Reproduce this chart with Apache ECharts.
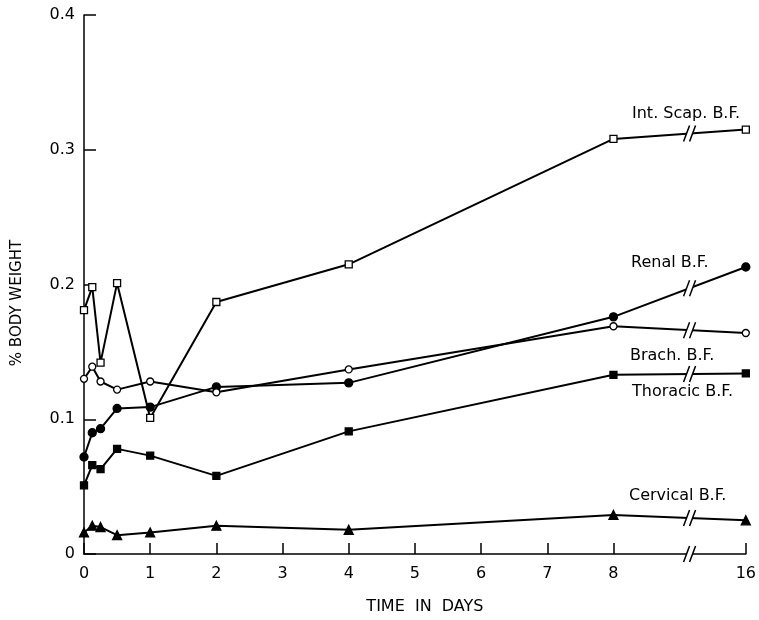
<!DOCTYPE html>
<html>
<head>
<meta charset="utf-8">
<script src="https://cdn.jsdelivr.net/npm/echarts@6/dist/echarts.min.js"></script>
<style>html,body{margin:0;padding:0;background:#fff}#c{width:759px;height:620px}</style>
</head>
<body>
<div id="c"></div>
<script>
// Time points in days
var days = [0, 0.125, 0.25, 0.5, 1, 2, 4, 8, 16];
// % body weight
var intScap  = [0.181, 0.198, 0.142, 0.201, 0.101, 0.187, 0.215, 0.308, 0.315];
var renal    = [0.072, 0.090, 0.093, 0.108, 0.109, 0.124, 0.127, 0.176, 0.213];
var brach    = [0.130, 0.139, 0.128, 0.122, 0.128, 0.120, 0.137, 0.169, 0.164];
var thoracic = [0.051, 0.066, 0.063, 0.078, 0.073, 0.058, 0.091, 0.133, 0.134];
var cervical = [0.016, 0.021, 0.020, 0.014, 0.016, 0.021, 0.018, 0.029, 0.025];
var xTickDays = [0, 1, 2, 3, 4, 5, 6, 7, 8, 16];
var seriesNames = ['Int. Scap. B.F.', 'Renal B.F.', 'Brach. B.F.', 'Thoracic B.F.', 'Cervical B.F.'];
var xTitle = 'TIME  IN  DAYS';
var yTitle = '% BODY WEIGHT';

// broken axis: days 0..8 linear, 8..16 compressed into 2 units
function pos(d) { return d <= 8 ? d : 8 + (d - 8) / 4; }
function dayOf(p) { return p <= 8 ? p : 8 + (p - 8) * 4; }
var breakPos = 9.15;

function pts(vals) { return days.map(function (d, i) { return [pos(d), vals[i]]; }); }
function valAtBreak(vals) {
  var a = vals[7], b = vals[8], t = (breakPos - pos(8)) / (pos(16) - pos(8));
  return a + (b - a) * t;
}

var chart = echarts.init(document.getElementById('c'));
var F = 'DejaVu Sans, Liberation Sans, sans-serif';
var lineStyle = { color: '#000', width: 2 };

function mkSeries(name, vals, symbol, filled, size) {
  return {
    name: name, type: 'line', data: pts(vals),
    symbol: symbol, symbolSize: size, showAllSymbol: true,
    lineStyle: lineStyle,
    itemStyle: { color: filled ? '#000' : '#fff', borderColor: '#000', borderWidth: 1.3 },
    z: 3, animation: false
  };
}

var allVals = [intScap, renal, brach, thoracic, cervical];
var breakData = allVals.map(function (v) { return [breakPos, valAtBreak(v)]; });
breakData.push([breakPos, 0]);

var breakSeries = {
  type: 'custom', data: breakData, z: 5, animation: false,
  renderItem: function (params, api) {
    var p = api.coord([api.value(0), api.value(1)]);
    var g = 3, h = 8, s = 3;
    return {
      type: 'group',
      children: [
        { type: 'polygon', shape: { points: [[p[0] - g - s, p[1] + h], [p[0] + g - s, p[1] + h], [p[0] + g + s, p[1] - h], [p[0] - g + s, p[1] - h]] },
          style: { fill: '#fff', stroke: null } },
        { type: 'line', shape: { x1: p[0] - g - s, y1: p[1] + h, x2: p[0] - g + s, y2: p[1] - h }, style: { stroke: '#000', lineWidth: 1.5 } },
        { type: 'line', shape: { x1: p[0] + g - s, y1: p[1] + h, x2: p[0] + g + s, y2: p[1] - h }, style: { stroke: '#000', lineWidth: 1.5 } }
      ]
    };
  }
};

var labelFont = '16px ' + F;
var option = {
  backgroundColor: '#fff',
  animation: false,
  grid: { left: 84, right: 5, top: 15, bottom: 65, containLabel: false },
  xAxis: {
    type: 'value', min: 0, max: 10, interval: 1,
    name: xTitle, nameLocation: 'middle', nameGap: 45,
    nameTextStyle: { fontFamily: F, fontSize: 16, color: '#000', padding: [0, 0, 0, 20] },
    axisLine: { show: true, lineStyle: { color: '#000', width: 1.5 } },
    axisTick: { show: true, inside: true, length: 11, lineStyle: { color: '#000', width: 1.5 },
      customValues: xTickDays.map(pos) },
    axisLabel: { color: '#000', fontFamily: F, fontSize: 16, margin: 12,
      customValues: xTickDays.map(pos),
      formatter: function (v) { return String(Math.round(dayOf(v))); } },
    splitLine: { show: false }
  },
  yAxis: {
    type: 'value', min: 0, max: 0.4, interval: 0.1,
    axisLine: { show: true, lineStyle: { color: '#000', width: 1.5 } },
    axisTick: { show: true, inside: true, length: 12, lineStyle: { color: '#000', width: 1.5 } },
    axisLabel: { color: '#000', fontFamily: F, fontSize: 16, margin: 9,
      formatter: function (v) { return v === 0 ? '0' : v.toFixed(1); } },
    splitLine: { show: false }
  },
  graphic: [
    { type: 'text', x: 17, y: 303, rotation: Math.PI / 2,
      style: { text: yTitle, font: '15px ' + F, fill: '#000', align: 'center', verticalAlign: 'middle' } },
    { type: 'text', left: 632, top: 106, style: { text: seriesNames[0], font: labelFont, fill: '#000' } },
    { type: 'text', left: 631, top: 255, style: { text: seriesNames[1], font: labelFont, fill: '#000' } },
    { type: 'text', left: 630, top: 348, style: { text: seriesNames[2], font: labelFont, fill: '#000' } },
    { type: 'text', left: 632, top: 384, style: { text: seriesNames[3], font: labelFont, fill: '#000' } },
    { type: 'text', left: 629, top: 488, style: { text: seriesNames[4], font: labelFont, fill: '#000' } }
  ],
  series: [
    mkSeries(seriesNames[0], intScap, 'rect', false, 7),
    mkSeries(seriesNames[1], renal, 'circle', true, 8),
    mkSeries(seriesNames[2], brach, 'circle', false, 7),
    mkSeries(seriesNames[3], thoracic, 'rect', true, 7),
    mkSeries(seriesNames[4], cervical, 'triangle', true, 9),
    breakSeries
  ]
};
chart.setOption(option);
</script>
</body>
</html>
